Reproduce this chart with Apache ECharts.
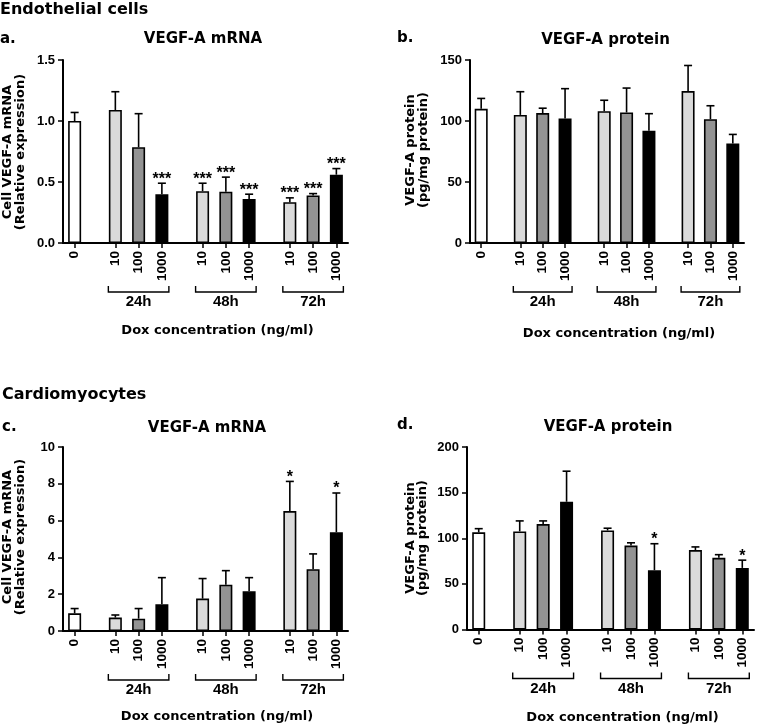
<!DOCTYPE html>
<html><head><meta charset="utf-8">
<script src="https://cdn.jsdelivr.net/npm/echarts@6/dist/echarts.min.js"></script>
<style>html,body{margin:0;padding:0;background:#fff}#c{width:757px;height:727px}</style>
</head><body><div id="c"></div>
<script>
// ---- data ----
const doses = ['0','10','100','1000','10','100','1000','10','100','1000'];
const groups = ['24h','48h','72h'];

// a. Endothelial VEGF-A mRNA
const aMean = [1.00, 1.09, 0.785, 0.40, 0.425, 0.42, 0.36, 0.335, 0.39, 0.56];
const aSD   = [0.07, 0.15, 0.275, 0.09, 0.065, 0.12, 0.04, 0.035, 0.015, 0.05];
const aSig  = ['', '', '', '***', '***', '***', '***', '***', '***', '***'];
// b. Endothelial VEGF-A protein
const bMean = [110, 105, 106.5, 102, 108, 107, 92, 124.5, 101.5, 81.5];
const bSD   = [8.5, 19, 4, 24.5, 9, 20, 14, 21, 11, 7.5];
const bSig  = ['', '', '', '', '', '', '', '', '', ''];
// c. Cardiomyocytes VEGF-A mRNA
const cMean = [0.96, 0.73, 0.67, 1.45, 1.76, 2.52, 2.16, 6.52, 3.36, 5.37];
const cSD   = [0.26, 0.14, 0.55, 1.45, 1.09, 0.76, 0.74, 1.61, 0.83, 2.13];
const cSig  = ['', '', '', '', '', '', '', '*', '', '*'];
// d. Cardiomyocytes VEGF-A protein
const dMean = [106.5, 107.5, 115.5, 140, 108.5, 92, 65, 87, 78.5, 67.5];
const dSD   = [4, 11.5, 3.5, 33.5, 2.5, 3, 29, 3.5, 3.5, 8.5];
const dSig  = ['', '', '', '', '', '', '*', '', '', '*'];

// ---- layout ----
const LEAD = 2, STEP = 4, GAP = 7, NCAT = 50;
function catIndex(i) {
  if (i === 0) return LEAD;
  const g = Math.floor((i - 1) / 3), k = (i - 1) % 3;
  return LEAD + GAP + g * (2 * STEP + GAP) + k * STEP;
}
const catNames = [];
for (let i = 0; i < NCAT; i++) catNames.push('k' + i);
const labelMap = {};
const isBar = {};
doses.forEach((d, i) => { labelMap['k' + catIndex(i)] = d; isBar[catIndex(i)] = true; });

const doseColor = { '0': '#ffffff', '10': '#dadada', '100': '#939393', '1000': '#000000' };
const TICKFONT = '"Liberation Sans", Arial, Helvetica, sans-serif';
const TITLEFONT = '"DejaVu Sans", sans-serif';

const grids = [
  { left: 63, top: 60, width: 285, height: 183 },
  { left: 470, top: 60, width: 274, height: 183 },
  { left: 63, top: 447, width: 285, height: 184 },
  { left: 467, top: 447, width: 287, height: 182.5 }
];
const panels = [
  { mean: aMean, sd: aSD, sig: aSig, max: 1.5, interval: 0.5, fmt: v => v.toFixed(1) },
  { mean: bMean, sd: bSD, sig: bSig, max: 150, interval: 50, fmt: v => String(v) },
  { mean: cMean, sd: cSD, sig: cSig, max: 10, interval: 2, fmt: v => String(v) },
  { mean: dMean, sd: dSD, sig: dSig, max: 200, interval: 50, fmt: v => String(v) }
];

const xAxes = [], yAxes = [], series = [];
panels.forEach((p, g) => {
  xAxes.push({
    type: 'category', gridIndex: g, data: catNames, boundaryGap: false,
    axisLine: { lineStyle: { color: '#000', width: 2 } },
    axisTick: { interval: (idx) => !!isBar[idx], length: 5, lineStyle: { color: '#000', width: 1.5 } },
    axisLabel: {
      interval: (idx) => !!isBar[idx], rotate: 90, formatter: v => labelMap[v] || '',
      fontSize: 13.5, fontWeight: 'bold', fontFamily: TICKFONT, color: '#000', margin: 8
    },
    splitLine: { show: false }
  });
  yAxes.push({
    type: 'value', gridIndex: g, min: 0, max: p.max, interval: p.interval,
    axisLine: { show: true, lineStyle: { color: '#000', width: 2 } },
    axisTick: { show: true, length: 5, lineStyle: { color: '#000', width: 1.5 } },
    axisLabel: { fontSize: 13, fontWeight: 'bold', fontFamily: TICKFONT, color: '#000', margin: 8, formatter: p.fmt },
    splitLine: { show: false }
  });
  series.push({
    type: 'bar', xAxisIndex: g, yAxisIndex: g, barWidth: 13, z: 2,
    itemStyle: { borderColor: '#000', borderWidth: 1.6 },
    data: p.mean.map((v, i) => ({ value: [catIndex(i), v], itemStyle: { color: doseColor[doses[i]] } }))
  });
  series.push({
    type: 'custom', xAxisIndex: g, yAxisIndex: g, clip: false, z: 3,
    data: p.mean.map((v, i) => [catIndex(i), v, v + p.sd[i]]),
    renderItem: (params, api) => {
      const x = api.value(0);
      const p0 = api.coord([x, api.value(1)]);
      const p1 = api.coord([x, api.value(2)]);
      const s = p.sig[params.dataIndex];
      const children = [
        { type: 'line', shape: { x1: p0[0], y1: p0[1], x2: p1[0], y2: p1[1] }, style: { stroke: '#000', lineWidth: 1.6 } },
        { type: 'line', shape: { x1: p1[0] - 4, y1: p1[1], x2: p1[0] + 4, y2: p1[1] }, style: { stroke: '#000', lineWidth: 1.6 } }
      ];
      if (s) children.push({ type: 'text', style: { text: s, x: p1[0], y: p1[1] - 4, align: 'center', verticalAlign: 'middle', font: 'bold 16px ' + TICKFONT, fill: '#000' } });
      return { type: 'group', children };
    }
  });
  series.push({
    type: 'custom', xAxisIndex: g, yAxisIndex: g, clip: false, z: 3,
    data: groups.map((gr, j) => [catIndex(1 + 3 * j), catIndex(3 + 3 * j)]),
    renderItem: (params, api) => {
      const a = api.coord([api.value(0), 0]);
      const b = api.coord([api.value(1), 0]);
      const x1 = a[0] - 7, x2 = b[0] + 7, y = a[1] + 49;
      return { type: 'group', children: [
        { type: 'polyline', shape: { points: [[x1, y - 6], [x1, y], [x2, y], [x2, y - 6]] }, style: { stroke: '#000', lineWidth: 1.4, fill: 'none' } },
        { type: 'text', style: { text: groups[params.dataIndex], x: (x1 + x2) / 2, y: y + 10, align: 'center', verticalAlign: 'middle', font: 'bold 15px ' + TICKFONT, fill: '#000' } }
      ] };
    }
  });
});

function txt(text, x, y, size, opts) {
  opts = opts || {};
  return {
    type: 'text', x: x, y: y, rotation: opts.rot || 0, silent: true,
    style: { text: text, x: 0, y: 0, align: opts.align || 'center', verticalAlign: 'middle',
      font: 'bold ' + size + 'px ' + (opts.family || TITLEFONT), fill: '#000', lineHeight: opts.lh || size }
  };
}
const graphics = [
  txt('Endothelial cells', 0, 10, 16, { align: 'left' }),
  txt('Cardiomyocytes', 2, 395, 16, { align: 'left' }),
  txt('a.', 0, 39, 15, { align: 'left' }),
  txt('b.', 397, 38, 15, { align: 'left' }),
  txt('c.', 2, 427, 15, { align: 'left' }),
  txt('d.', 397, 425, 15, { align: 'left' }),
  txt('VEGF-A mRNA', 203, 39, 15),
  txt('VEGF-A protein', 605.5, 40, 15),
  txt('VEGF-A mRNA', 207, 428, 15),
  txt('VEGF-A protein', 608, 427.5, 15),
  txt('Cell VEGF-A mRNA\n(Relative expression)', 14, 152, 13, { rot: Math.PI / 2, lh: 12.5 }),
  txt('VEGF-A protein\n(pg/mg protein)', 417, 150, 13, { rot: Math.PI / 2, lh: 12.5 }),
  txt('Cell VEGF-A mRNA\n(Relative expression)', 14, 537, 13, { rot: Math.PI / 2, lh: 12.5 }),
  txt('VEGF-A protein\n(pg/mg protein)', 416.5, 538, 13, { rot: Math.PI / 2, lh: 12.5 }),
  txt('Dox concentration (ng/ml)', 217.5, 331, 13),
  txt('Dox concentration (ng/ml)', 619, 334, 13),
  txt('Dox concentration (ng/ml)', 217, 717, 13),
  txt('Dox concentration (ng/ml)', 622.5, 717.5, 13)
];

const chart = echarts.init(document.getElementById('c'), null, { renderer: 'canvas' });
chart.setOption({
  animation: false,
  backgroundColor: '#ffffff',
  grid: grids,
  xAxis: xAxes,
  yAxis: yAxes,
  series: series,
  graphic: graphics
});
</script></body></html>
